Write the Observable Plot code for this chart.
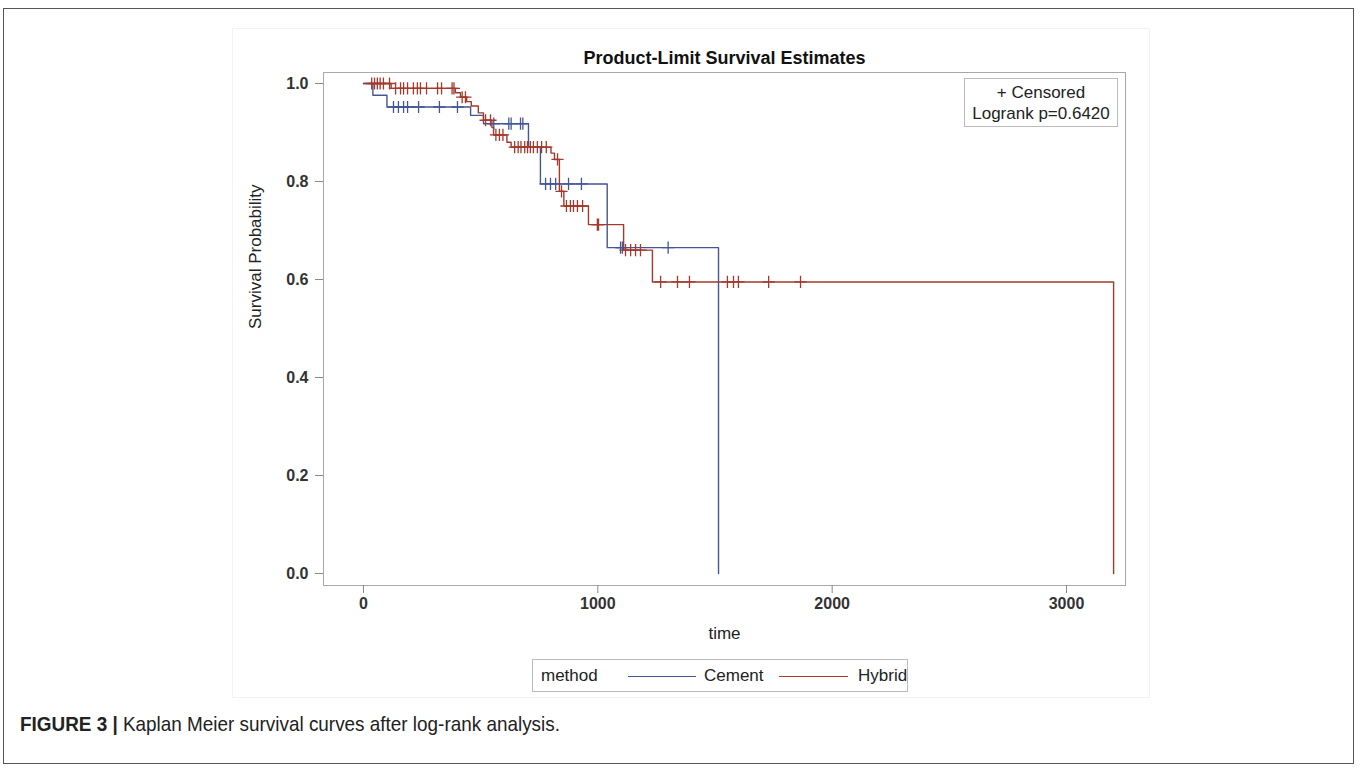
<!DOCTYPE html>
<html><head><meta charset="utf-8">
<script src="https://cdn.jsdelivr.net/npm/d3@7"></script>
<script src="https://cdn.jsdelivr.net/npm/@observablehq/plot@0.6"></script>
<style>
body{margin:0;background:#fff;}
#wrap{position:relative;width:1360px;height:771px;overflow:hidden;font-family:"Liberation Sans",Arial,sans-serif;color:#222;}
#border{position:absolute;left:3px;top:8px;width:1351px;height:756px;border:1px solid #555;box-sizing:border-box;}
#panel{position:absolute;left:232px;top:28px;width:918px;height:670px;border:1px solid #f3f3f3;box-sizing:border-box;}
#chart{position:absolute;left:0;top:0;}
#inset{position:absolute;left:964px;top:78px;width:154px;height:49px;border:1px solid #bbb;box-sizing:border-box;text-align:center;font-size:17px;line-height:21px;padding-top:3px;background:#fff;}
#legend{position:absolute;left:532px;top:659px;width:376px;height:33px;border:1px solid #bbb;box-sizing:border-box;font-size:17px;}
#legend span{position:absolute;top:6px;line-height:20px;}
#legend i{position:absolute;top:16px;height:0;border-top:1.5px solid;}
#caption{position:absolute;left:20px;top:712px;font-size:21px;white-space:nowrap;transform:scaleX(0.9);transform-origin:0 50%;font-family:"Liberation Sans Narrow","Arial Narrow","Liberation Sans",Arial,sans-serif;color:#222;}
</style></head><body>
<div id="wrap">
  <div id="border"></div>
  <div id="panel"></div>
  <div id="chart"></div>
  <div id="inset"></div>
  <div id="legend"></div>
  <div id="caption"></div>
</div>
<script>
const groups = ["Cement", "Hybrid"];
const groupColors = ["#445694", "#A23A2E"];
const legendTitle = "method";
const insetLines = ["+ Censored", "Logrank p=0.6420"];
const xTicks = [0, 1000, 2000, 3000];
const yTicks = [0, 0.2, 0.4, 0.6, 0.8, 1.0];

// Cement: step points (time, survival after event)
const cementTime = [0, 40, 100, 457, 512, 704, 755, 1040, 1515];
const cementSurv = [1, 0.976, 0.952, 0.935, 0.918, 0.87, 0.795, 0.665, 0];
const cementCensor = [128, 149, 171, 188, 235, 324, 401, 556, 620, 630, 670, 680, 777, 798, 820, 875, 930, 1097, 1105, 1300];

// Hybrid
const hybridTime = [0, 118, 392, 414, 440, 460, 490, 512, 548, 555, 612, 630, 800, 815, 836, 855, 960, 1110, 1233, 3201];
const hybridSurv = [1, 0.99, 0.981, 0.972, 0.963, 0.954, 0.94, 0.925, 0.91, 0.895, 0.88, 0.87, 0.858, 0.845, 0.78, 0.75, 0.712, 0.66, 0.595, 0];
const hybridCensor = [35, 47, 59, 71, 85, 111, 137, 158, 171, 188, 213, 230, 243, 269, 316, 333, 378, 386, 421, 435, 521, 542, 565, 580, 595, 645, 660, 672, 688, 700, 712, 725, 742, 760, 780, 828, 845, 866, 883, 896, 913, 935, 998, 1003, 1118, 1140, 1161, 1182, 1268, 1340, 1391, 1553, 1579, 1600, 1729, 1865];

const series = [
  {g: groups[0], t: cementTime, s: cementSurv, c: cementCensor},
  {g: groups[1], t: hybridTime, s: hybridSurv, c: hybridCensor}
];
function survAt(times, surv, t) {
  let v = 1;
  for (let i = 0; i < times.length; i++) if (times[i] <= t) v = surv[i];
  return v;
}
const steps = series.flatMap(d => d.t.map((t, i) => ({g: d.g, t, s: d.s[i]})));
const censors = series.flatMap(d => d.c.map(t => ({g: d.g, t, s: survAt(d.t, d.s, t)})));

const chart = Plot.plot({
  width: 1360, height: 771,
  marginLeft: 323, marginRight: 235, marginTop: 72, marginBottom: 186,
  style: {fontFamily: "Liberation Sans, Arial, sans-serif", fontSize: "16px", color: "#222", background: "transparent"},
  x: {domain: [-170.7, 3251.8]},
  y: {domain: [-0.0245, 1.02245]},
  color: {domain: groups, range: groupColors},
  marks: [
    Plot.frame({stroke: "#a8a8a8"}),
    Plot.axisX({ticks: xTicks, tickFormat: d3.format("d"), tickSize: 8, tickPadding: 4, fontSize: 16, fontWeight: "bold", fill: "#333", stroke: "#888", label: null}),
    Plot.axisY({ticks: yTicks, tickFormat: d3.format(".1f"), tickSize: 8, tickPadding: 7, fontSize: 16, fontWeight: "bold", fill: "#333", stroke: "#888", label: null}),
    Plot.line(steps, {x: "t", y: "s", z: "g", stroke: "g", curve: "step-after", strokeWidth: 1.4}),
    Plot.dot(censors, {x: "t", y: "s", stroke: "g", symbol: "plus", r: 4, strokeWidth: 1.3}),
    Plot.text(["Product-Limit Survival Estimates"], {frameAnchor: "top", dy: -21, fontSize: 18, fontWeight: "bold", fill: "#111"}),
    Plot.text(["time"], {frameAnchor: "bottom", dy: 53, fontSize: 17, fill: "#222"}),
    Plot.text(["Survival Probability"], {frameAnchor: "left", dx: -68, rotate: -90, fontSize: 17, fill: "#222"})
  ]
});
document.getElementById("chart").appendChild(chart);

document.getElementById("inset").innerHTML = insetLines.join("<br>");
const lg = document.getElementById("legend");
lg.innerHTML =
  `<span style="left:8px">${legendTitle}</span>` +
  `<i style="left:95px;width:68px;border-color:${groupColors[0]}"></i>` +
  `<span style="left:171px">${groups[0]}</span>` +
  `<i style="left:246px;width:69px;border-color:${groupColors[1]}"></i>` +
  `<span style="left:325px">${groups[1]}</span>`;
document.getElementById("caption").innerHTML = "<b>FIGURE 3 |</b> Kaplan Meier survival curves after log-rank analysis.";
</script>
</body></html>
